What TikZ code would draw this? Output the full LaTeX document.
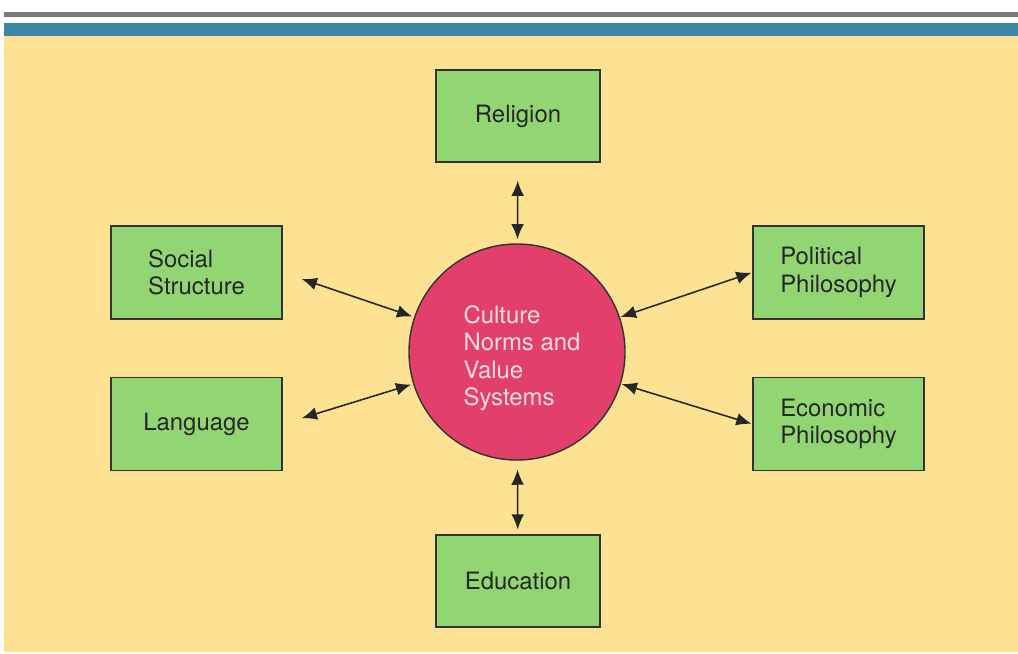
\documentclass[tikz,border=0pt]{standalone}
\usepackage{fontspec}
\setmainfont{TeX Gyre Heros}
\usetikzlibrary{arrows.meta}
\usetikzlibrary{positioning}

\definecolor{bgyellow}{RGB}{253,226,147}
\definecolor{barblue}{RGB}{62,134,165}
\definecolor{bargray}{RGB}{122,122,122}
\definecolor{boxgreen}{RGB}{146,214,115}
\definecolor{circred}{RGB}{226,64,106}
\definecolor{circtext}{RGB}{248,222,228}

\begin{document}
\begin{tikzpicture}[
  x=0.025cm, y=-0.025cm,
  > = {Latex[length=0.38cm,width=0.32cm]},
  every node/.style = {font=\fontsize{17}{19.5}\selectfont, text=black!85},
  topic/.style = {draw=black!80, line width=1pt, fill=boxgreen, align=left,
                  minimum width=4.1cm, minimum height=2.3cm},
  sidetopic/.style = {topic, minimum width=4.275cm, minimum height=2.325cm},
  core/.style = {circle, draw=black!80, line width=1pt, fill=circred,
                 minimum size=5.4cm},
  coretext/.style = {align=left, text=circtext},
  link/.style = {<->, line width=1.1pt, black!85}
  ]
	\useasboundingbox (0,0) rectangle (1018,653);
	\fill[bgyellow] (4,36) rectangle (1018,652);
	\fill[bargray] (4,12) rectangle (1018,17);
	\fill[barblue] (4,23) rectangle (1018,36);

	\node[core] (culture) at (517,352) {};
	\node[coretext] (culturetext) at (522,358) {Culture\\Norms and\\Value\\Systems};

	\node[topic] (religion) at (518,116) {Religion};
	\node[topic] (education) at (518,581) {Education};
	\node[sidetopic] (social) at (196.5,272.5) {Social\\Structure};
	\node[sidetopic] (language) at (196.5,424) {Language};
	\node[sidetopic] (political) at (838.5,272.5) {Political\\Philosophy};
	\node[sidetopic] (economic) at (838.5,424) {Economic\\Philosophy};

	\draw[link, shorten <=0.45cm, shorten >=0.1cm] (religion) -- (culture);
	\draw[link, shorten <=0.12cm, shorten >=0.22cm] (education) -- (culture);
	\draw[link, shorten <=0.5cm, shorten >=0.05cm] (social.east) -- (culture);
	\draw[link, shorten <=0.5cm, shorten >=0.05cm] (language.east) -- (culture);
	\draw[link, shorten <=0.02cm, shorten >=0.02cm] (political.west) -- (culture);
	\draw[link, shorten <=0.02cm, shorten >=0.02cm] (economic.west) -- (culture);

\end{tikzpicture}
\end{document}
